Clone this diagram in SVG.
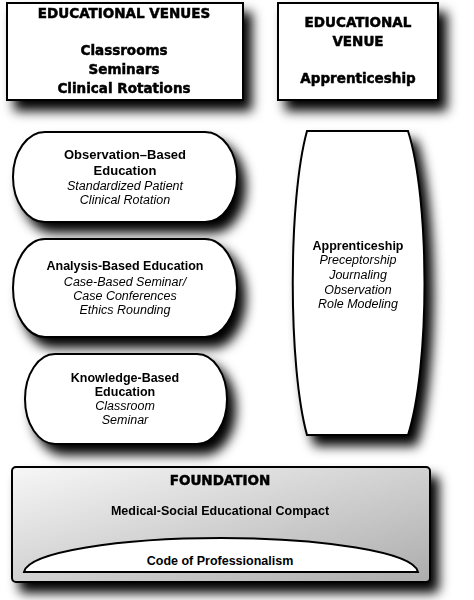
<svg xmlns="http://www.w3.org/2000/svg" width="474" height="600" viewBox="0 0 474 600">
<defs>
<filter id="sh" x="-20%" y="-20%" width="150%" height="150%">
<feGaussianBlur in="SourceAlpha" stdDeviation="6"/>
<feOffset dx="8" dy="10" result="b"/>
<feComponentTransfer><feFuncA type="linear" slope="1"/></feComponentTransfer>
<feMerge><feMergeNode/><feMergeNode in="SourceGraphic"/></feMerge>
</filter>
<linearGradient id="fg" x1="0" y1="0" x2="1" y2="1">
<stop offset="0" stop-color="#f7f7f7"/>
<stop offset="1" stop-color="#acacac"/>
</linearGradient>
</defs>
<style>
.box{fill:#fff;stroke:#000;stroke-width:2}
.hv{font-family:"DejaVu Sans",sans-serif;font-weight:bold;font-size:13.5px;text-anchor:middle;fill:#000;stroke:#000;stroke-width:0.5}
.b{font-family:"Liberation Sans",Arial,sans-serif;font-weight:bold;font-size:12.5px;text-anchor:middle;fill:#000}
.i{font-family:"Liberation Sans",Arial,sans-serif;font-style:italic;font-size:12.5px;text-anchor:middle;fill:#000}
</style>
<rect width="474" height="600" fill="#fff"/>
<g id="venues-left" filter="url(#sh)">
<rect class="box" x="7" y="3" width="236" height="97"/>
<text class="hv" x="124" y="18">EDUCATIONAL VENUES</text>
<text class="hv" x="124" y="55">Classrooms</text>
<text class="hv" x="124" y="74">Seminars</text>
<text class="hv" x="124" y="93">Clinical Rotations</text>
</g>
<g id="venue-right" filter="url(#sh)">
<rect class="box" x="278" y="3" width="160" height="97"/>
<text class="hv" x="358" y="27">EDUCATIONAL</text>
<text class="hv" x="358" y="46">VENUE</text>
<text class="hv" x="358" y="83">Apprenticeship</text>
</g>
<g id="observation" filter="url(#sh)">
<rect class="box" x="13" y="132" width="224" height="90" rx="32" ry="45"/>
<text class="b" x="125" y="159" style="font-size:13px">Observation–Based</text>
<text class="b" x="125" y="175" style="font-size:13px">Education</text>
<text class="i" x="125" y="190">Standardized Patient</text>
<text class="i" x="125" y="204">Clinical Rotation</text>
</g>
<g id="analysis" filter="url(#sh)">
<rect class="box" x="13" y="239" width="224" height="98" rx="32" ry="49"/>
<text class="b" x="125" y="270">Analysis-Based Education</text>
<text class="i" x="125" y="286">Case-Based Seminar/</text>
<text class="i" x="125" y="300">Case Conferences</text>
<text class="i" x="125" y="314">Ethics Rounding</text>
</g>
<g id="knowledge" filter="url(#sh)">
<rect class="box" x="25" y="354" width="202" height="90" rx="30" ry="45"/>
<text class="b" x="125" y="382">Knowledge-Based</text>
<text class="b" x="125" y="396">Education</text>
<text class="i" x="125" y="410">Classroom</text>
<text class="i" x="125" y="424">Seminar</text>
</g>
<g id="apprenticeship" filter="url(#sh)">
<path class="box" d="M307,131 H408 C430,200 430,366 408,435 H307 C288,366 288,200 307,131 Z"/>
<text class="b" x="358" y="250">Apprenticeship</text>
<text class="i" x="358" y="264">Preceptorship</text>
<text class="i" x="358" y="279">Journaling</text>
<text class="i" x="358" y="294">Observation</text>
<text class="i" x="358" y="308">Role Modeling</text>
</g>
<g id="foundation" filter="url(#sh)">
<rect x="12" y="467" width="418" height="115" rx="4" fill="url(#fg)" stroke="#000" stroke-width="2"/>
<text class="hv" x="220" y="485">FOUNDATION</text>
<text class="b" x="220" y="515">Medical-Social Educational Compact</text>
</g>
<g id="code">
<path d="M24,572 C28,552 120,538 221,538 C322,538 414,552 418,572 Z" fill="#fff" stroke="#000" stroke-width="2"/>
<text class="b" x="220" y="565">Code of Professionalism</text>
</g>
<g id="connectors"/>
</svg>
